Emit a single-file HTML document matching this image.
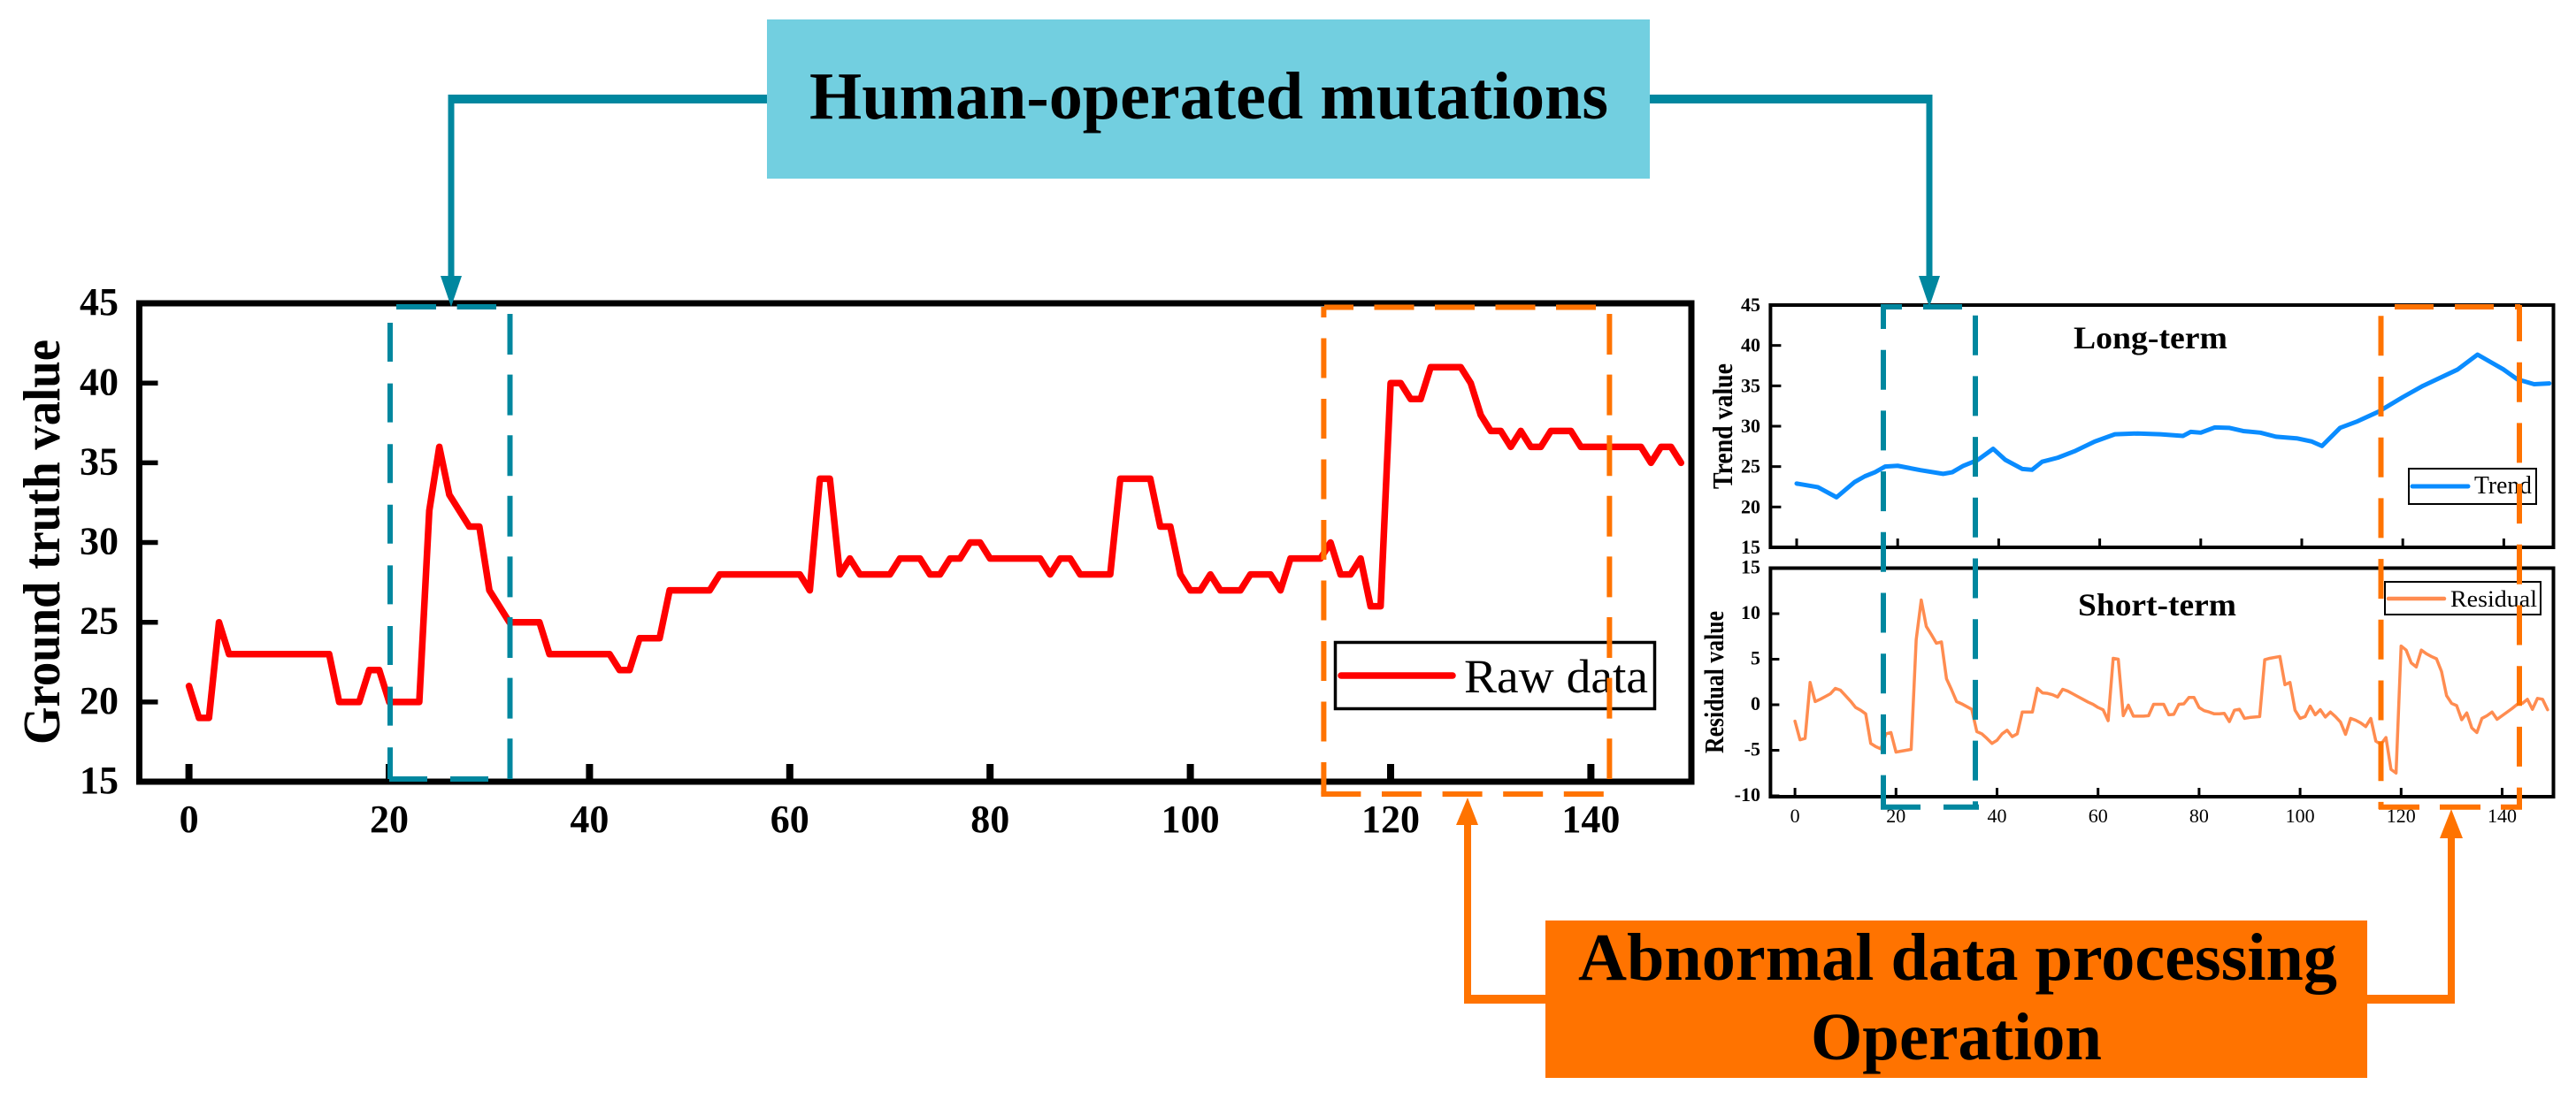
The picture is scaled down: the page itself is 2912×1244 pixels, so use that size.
<!DOCTYPE html>
<html>
<head>
<meta charset="utf-8">
<title>Human-operated mutations and abnormal data processing</title>
<style>
html,body{margin:0;padding:0;background:#fff;}
svg{display:block;font-family:"Liberation Serif",serif;}
</style>
</head>
<body>
<svg id="fig" xmlns="http://www.w3.org/2000/svg" width="2912" height="1244" viewBox="0 0 2912 1244">
  <rect x="0" y="0" width="2912" height="1244" fill="#ffffff"/>

  <g id="main-chart">
    <text transform="translate(67,842) rotate(-90)" font-size="59" font-weight="bold" textLength="458" lengthAdjust="spacingAndGlyphs">Ground truth value</text>
  </g>
  <g id="trend-chart">
    <text transform="translate(1958,553) rotate(-90)" font-size="32" font-weight="bold" textLength="142" lengthAdjust="spacingAndGlyphs">Trend value</text>
    <text x="2344" y="394" font-size="36" font-weight="bold" textLength="174" lengthAdjust="spacingAndGlyphs">Long-term</text>
  </g>
  <g id="resid-chart">
    <text transform="translate(1948,852) rotate(-90)" font-size="31" font-weight="bold" textLength="161" lengthAdjust="spacingAndGlyphs">Residual value</text>
    <text x="2349" y="696" font-size="36" font-weight="bold" textLength="179" lengthAdjust="spacingAndGlyphs">Short-term</text>
  </g>

  <!-- legends -->
  <g>
    <rect x="1509.5" y="726.5" width="361" height="75" fill="#fff" stroke="#000" stroke-width="3.5"/>
    <line x1="1516" y1="764" x2="1642" y2="764" stroke="#ff0000" stroke-width="7.5" stroke-linecap="round"/>
    <text x="1655" y="783" font-size="54" textLength="208" lengthAdjust="spacingAndGlyphs">Raw data</text>
  </g>
  <g>
    <rect x="2723" y="530" width="144" height="40" fill="#fff" stroke="#000" stroke-width="2"/>
    <line x1="2727" y1="550" x2="2790" y2="550" stroke="#0a8cff" stroke-width="5" stroke-linecap="round"/>
    <text x="2797" y="558" font-size="28" textLength="65" lengthAdjust="spacingAndGlyphs">Trend</text>
  </g>
  <g>
    <rect x="2696" y="658" width="176" height="37" fill="#fff" stroke="#000" stroke-width="2"/>
    <line x1="2700" y1="677" x2="2763" y2="677" stroke="#ff8c50" stroke-width="4.5" stroke-linecap="round"/>
    <text x="2770" y="686" font-size="26" textLength="98" lengthAdjust="spacingAndGlyphs">Residual</text>
  </g>

  <!-- dashed highlight boxes, main chart -->
  <g fill="none" stroke="#00879f" stroke-width="6">
    <line x1="441" y1="365" x2="441" y2="881" stroke-dasharray="44 24.6"/>
    <line x1="576.5" y1="355" x2="576.5" y2="881" stroke-dasharray="46 22.6"/>
    <line x1="448" y1="347" x2="561" y2="347" stroke-dasharray="45 23.6"/>
    <line x1="440" y1="881" x2="552" y2="881" stroke-dasharray="43 26"/>
  </g>
  <g fill="none" stroke="#ff7300" stroke-width="6">
    <line x1="1496.4" y1="347" x2="1496.4" y2="898" stroke-dasharray="45 23.5" stroke-dashoffset="33"/>
    <line x1="1819.4" y1="355" x2="1819.4" y2="881" stroke-dasharray="46 22.6"/>
    <line x1="1497" y1="347.5" x2="1804" y2="347.5" stroke-dasharray="33 23.5 45 23.5 45 23.5 45 23.5 45"/>
    <line x1="1493.4" y1="898" x2="1814" y2="898" stroke-dasharray="45 23.6"/>
  </g>

  <!-- dashed highlight boxes, decomposition charts -->
  <g fill="none" stroke="#00879f" stroke-width="6">
    <line x1="2129" y1="347" x2="2129" y2="912.7" stroke-dasharray="45 23.7" stroke-dashoffset="20"/>
    <line x1="2233" y1="356.7" x2="2233" y2="912.7" stroke-dasharray="45 23.7"/>
    <line x1="2126" y1="347" x2="2218" y2="347" stroke-dasharray="24 24 44 24"/>
    <line x1="2126" y1="912.7" x2="2237" y2="912.7" stroke-dasharray="45 26 40 10"/>
  </g>
  <g fill="none" stroke="#ff7300" stroke-width="6">
    <line x1="2691.5" y1="357.3" x2="2691.5" y2="915" stroke-dasharray="45 23.7"/>
    <line x1="2848" y1="345" x2="2848" y2="915" stroke-dasharray="45 23.7" stroke-dashoffset="4"/>
    <line x1="2707" y1="347" x2="2851" y2="347" stroke-dasharray="44 24 44 24 6 20"/>
    <line x1="2689" y1="912.7" x2="2851" y2="912.7" stroke-dasharray="46 23"/>
  </g>

  <!-- connectors -->
  <g fill="#00879f">
    <rect x="507" y="107" width="362" height="10" rx="2"/>
    <rect x="506.5" y="107" width="7" height="210"/>
    <polygon points="498,312 522,312 510,347"/>
    <rect x="1863" y="107" width="321" height="10" rx="2"/>
    <rect x="2177.5" y="107" width="7" height="210"/>
    <polygon points="2169,312 2193,312 2181,347"/>
  </g>
  <g fill="#ff7300">
    <rect x="1655" y="1125" width="94" height="10" rx="2"/>
    <rect x="1655" y="930" width="8" height="205"/>
    <polygon points="1646,933 1671,933 1659,902"/>
    <rect x="2674" y="1125" width="101" height="10" rx="2"/>
    <rect x="2767" y="945" width="8" height="190"/>
    <polygon points="2758,948 2784,948 2771,915"/>
  </g>

  <!-- callout boxes -->
  <g>
    <rect x="867" y="22" width="998" height="180" fill="#72cfe0"/>
    <text x="915" y="134" font-size="76" font-weight="bold" textLength="903" lengthAdjust="spacingAndGlyphs">Human-operated mutations</text>
  </g>
  <g>
    <rect x="1747" y="1041" width="929" height="178" fill="#ff7300"/>
    <text x="1784" y="1108" font-size="76" font-weight="bold" textLength="858" lengthAdjust="spacingAndGlyphs">Abnormal data processing</text>
    <text x="2047" y="1198" font-size="76" font-weight="bold" textLength="329" lengthAdjust="spacingAndGlyphs">Operation</text>
  </g>
</svg>

<script>
const rawValues = [21,19,19,25,23,23,23,23,23,23,23,23,23,23,23,20,20,20,22,22,
  20,20,20,20,32,36,33,32,31,31,27,26,25,25,25,25,23,23,23,23,
  23,23,23,22,22,24,24,24,27,27,27,27,27,28,28,28,28,28,28,28,
  28,28,27,34,34,28,29,28,28,28,28,29,29,29,28,28,29,29,30,30,
  29,29,29,29,29,29,28,29,29,28,28,28,28,34,34,34,34,31,31,28,
  27,27,28,27,27,27,28,28,28,27,29,29,29,29,30,28,28,29,26,26,
  40,40,39,39,41,41,41,41,40,38,37,37,36,37,36,36,37,37,37,36,
  36,36,36,36,36,36,35,36,36,35];

const trendTimes = [0,4.2,7.9,11.5,13.5,15.5,17.5,20,24.5,29,30.8,33,35.8,38.9,41.3,44.7,46.6,48.6,51.7,55,59,63,67.5,72,76.5,78,80,82.8,85.6,88.4,91.8,94.9,99,102,104,107.6,111,115.2,120,124,130.8,134.8,139.9,142.7,146,149];
const trendValues = [22.9,22.45,21.2,23.1,23.8,24.3,25,25.1,24.56,24.1,24.3,25.1,25.8,27.2,25.84,24.7,24.6,25.6,26.1,26.9,28.1,29,29.1,29,28.8,29.3,29.2,29.85,29.8,29.4,29.2,28.7,28.5,28.1,27.55,29.8,30.6,31.8,33.6,35,37,38.87,37.04,35.8,35.2,35.3];

const residualValues = [-1.8,-3.85,-3.7,2.45,0.35,0.6,0.9,1.2,1.8,1.6,
  1,0.4,-0.3,-0.6,-1,-4.25,-4.6,-4.85,-3.2,-3.05,
  -5.2,-5.1,-5,-4.9,7.15,11.5,8.6,7.7,6.75,6.9,
  2.85,1.65,0.35,0.1,-0.2,-0.5,-2.95,-3.2,-3.7,-4.25,
  -3.9,-3.2,-2.8,-3.5,-3.2,-0.8,-0.8,-0.8,1.8,1.3,
  1.25,1.1,0.85,1.7,1.5,1.2,0.9,0.6,0.3,0.05,
  -0.3,-0.55,-1.75,5.1,5,-1.2,-0.05,-1.25,-1.25,-1.25,
  -1.2,0.05,0.05,0.05,-1.1,-1.05,0.05,0.1,0.8,0.8,
  -0.3,-0.65,-0.8,-1,-1,-0.95,-1.85,-0.6,-0.5,-1.5,
  -1.4,-1.35,-1.3,4.95,5.1,5.2,5.3,2.2,2.45,-0.6,
  -1.5,-1.3,-0.15,-1.1,-0.55,-1.35,-0.8,-1.3,-1.9,-3.25,
  -1.5,-1.7,-2,-2.4,-1.5,-4,-4.35,-3.6,-7.1,-7.5,
  6.45,6,4.6,4.15,6,5.6,5.3,5.05,3.65,1,
  0.15,-0.1,-1.65,-0.9,-2.55,-3.05,-1.5,-1.2,-0.8,-1.6,
  -1.2,-0.8,-0.4,0.05,0.15,0.6,-0.5,0.7,0.6,-0.55];

const xTickLabels = [0,20,40,60,80,100,120,140];
const mainYTicks = [15,20,25,30,35,40,45];
const trendYTicks = [15,20,25,30,35,40,45];
const residualYTicks = [-10,-5,0,5,10,15];

const NS = 'http://www.w3.org/2000/svg';

function xMain(v){ return 213.6 + v * 11.32; }
function yMain(v){ return 884 - (v - 15) * 18.03; }
function xTrend(v){ return 2031 + v * 5.71; }
function yTrend(v){ return 619 - (v - 15) * 9.133; }
function xResid(v){ return 2029.1 + v * 5.71; }
function yResid(v){ return 797 - v * 10.3; }

function make(tag, parent, attrs, before){
  const el = document.createElementNS(NS, tag);
  for (const k in attrs) el.setAttribute(k, attrs[k]);
  if (before) parent.insertBefore(el, before); else parent.appendChild(el);
  return el;
}

function drawPanel(opts){
  const g = document.getElementById(opts.id);
  const first = g.firstElementChild;

  const frame = make('rect', g, {x:opts.left, y:opts.top, width:opts.right-opts.left, height:opts.bottom-opts.top, fill:'none', stroke:'#000', 'stroke-width':opts.frameWidth}, first);
  
  

  xTickLabels.forEach(function(t){
    const tick = make('line', g, {x1:opts.x(t), x2:opts.x(t), y1:opts.bottom, y2:opts.bottom-opts.xTickLen, stroke:'#000', 'stroke-width':opts.xTickWidth}, first);
    
    
    if (opts.showXLabels) {
      const label = make('text', g, {x:opts.x(t), y:opts.xLabelY, 'font-size':opts.fontSize, 'font-weight':opts.xBold?'bold':'normal', 'text-anchor':'middle'}, first);
      label.textContent = String(t);
      
      
    }
  });

  opts.yTicks.forEach(function(t){
    const tick = make('line', g, {x1:opts.left, x2:opts.left+opts.yTickLen, y1:opts.y(t), y2:opts.y(t), stroke:'#000', 'stroke-width':opts.yTickWidth}, first);
    
    
    const label = make('text', g, {x:opts.yLabelX, y:opts.y(t)+opts.yLabelDy, 'font-size':opts.fontSize, 'font-weight':'bold', 'text-anchor':'end'}, first);
    label.textContent = String(t);
    
    
  });

  const pts = opts.values.map(function(v, i){
    const t = opts.times ? opts.times[i] : i;
    return opts.x(t).toFixed(2) + ',' + opts.y(v).toFixed(2);
  }).join(' ');
  const line = make('polyline', g, {points:pts, fill:'none', stroke:opts.color, 'stroke-width':opts.lineWidth, 'stroke-linejoin':'round', 'stroke-linecap':'round'}, first);
  
  
}

drawPanel({id:'main-chart', left:157.5, right:1912, top:343, bottom:884, frameWidth:7,
  x:xMain, y:yMain, yTicks:mainYTicks, xTickLen:20, xTickWidth:8, yTickLen:21, yTickWidth:5.5,
  showXLabels:true, xLabelY:941, yLabelX:134, yLabelDy:13, fontSize:44, xBold:true,
  values:rawValues, color:'#ff0000', lineWidth:7.5, seriesName:'raw-data-line'});

drawPanel({id:'trend-chart', left:2001.4, right:2886.5, top:345, bottom:619, frameWidth:4,
  x:xTrend, y:yTrend, yTicks:trendYTicks, xTickLen:10, xTickWidth:3, yTickLen:12, yTickWidth:3,
  showXLabels:false, xLabelY:0, yLabelX:1990, yLabelDy:7, fontSize:22, xBold:false,
  values:trendValues, times:trendTimes, color:'#0a8cff', lineWidth:5, seriesName:'trend-line'});

drawPanel({id:'resid-chart', left:2001.4, right:2886.5, top:642.5, bottom:901, frameWidth:4,
  x:xResid, y:yResid, yTicks:residualYTicks, xTickLen:10, xTickWidth:3, yTickLen:10, yTickWidth:3,
  showXLabels:true, xLabelY:930, yLabelX:1990, yLabelDy:6, fontSize:22, xBold:false,
  values:residualValues, color:'#ff8c50', lineWidth:3.5, seriesName:'residual-line'});
</script>
</body>
</html>
